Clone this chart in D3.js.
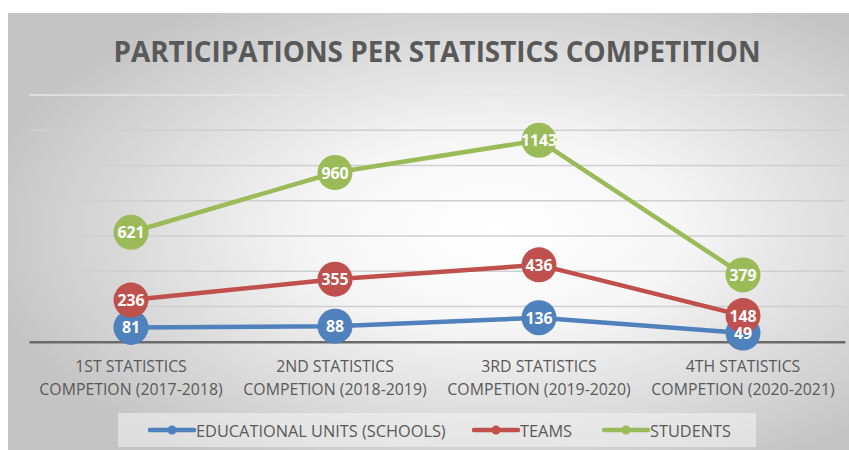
<!DOCTYPE html>
<html lang="en">
<head>
  <meta charset="UTF-8">
  <title>Participations per statistics competition</title>
  <script src="https://cdnjs.cloudflare.com/ajax/libs/d3/7.8.5/d3.min.js"></script>
  <style>
      body { margin: 0; background: #fff; }
      svg { display: block; font-family: "Open Sans", sans-serif; }
  </style>
</head>
<body>
<div id="chart"></div>
<script>
  // Data
  const categories = [
    ["1ST STATISTICS", "COMPETION (2017-2018)"],
    ["2ND STATISTICS", "COMPETION (2018-2019)"],
    ["3RD STATISTICS", "COMPETION (2019-2020)"],
    ["4TH STATISTICS", "COMPETION (2020-2021)"]
  ];
  const seriesNames = ["EDUCATIONAL UNITS (SCHOOLS)", "TEAMS", "STUDENTS"];
  const schools = [81, 88, 136, 49];
  const teams = [236, 355, 436, 148];
  const students = [621, 960, 1143, 379];
  const yTicks = [0, 200, 400, 600, 800, 1000, 1200, 1400];
  const colors = ["#4f81bd", "#c0504d", "#9bbb59"];

  const width = 849, height = 450;
  const squeeze = 0.96; // narrow the font a little, closer to Calibri

  const series = [schools, teams, students].map((values, i) => ({
    name: seriesNames[i], color: colors[i],
    points: values.map((v, j) => ({ cat: j, value: v }))
  }));

  const x = d3.scalePoint().domain(d3.range(categories.length)).range([29, 845]).padding(0.5);
  const y = d3.scaleLinear().domain([0, 1400]).range([341.7, 95]);

  const svg = d3.select("#chart").append("svg")
      .attr("width", width).attr("height", height)
      .attr("viewBox", [0, 0, width, height]);

  const defs = svg.append("defs");
  const grad = defs.append("radialGradient").attr("id", "bg")
      .attr("cx", "58%").attr("cy", "50%").attr("r", "62%");
  grad.append("stop").attr("offset", "0%").attr("stop-color", "#ffffff");
  grad.append("stop").attr("offset", "35%").attr("stop-color", "#f6f6f6");
  grad.append("stop").attr("offset", "100%").attr("stop-color", "#c4c4c4");

  svg.append("rect")
      .attr("x", 8).attr("y", 13).attr("width", width - 8).attr("height", height - 13)
      .attr("fill", "url(#bg)");

  function fit (text) {
    text.each(function () {
      const w = this.getComputedTextLength();
      d3.select(this).attr("textLength", w * squeeze).attr("lengthAdjust", "spacingAndGlyphs");
    });
  }

  // Title
  svg.append("text")
      .attr("x", 437).attr("y", 62)
      .attr("text-anchor", "middle")
      .attr("fill", "#595959")
      .style("font-size", "29px").style("font-weight", "bold")
      .text("PARTICIPATIONS PER STATISTICS COMPETITION")
      .call(fit);

  // Gridlines
  svg.append("g").selectAll("line")
      .data(yTicks.slice(1))
      .join("line")
      .attr("x1", 29).attr("x2", 845)
      .attr("y1", d => y(d)).attr("y2", d => y(d))
      .attr("stroke", d => d === 1400 ? "#e6e6e6" : "#cfcfcf")
      .attr("stroke-width", 1.5);

  // X axis
  const xAxis = svg.append("g")
      .attr("transform", `translate(0,${y(0)})`)
      .call(d3.axisBottom(x).tickSize(0).tickFormat(""));
  xAxis.select(".domain").attr("stroke", "#6b6b6b").attr("stroke-width", 2.5);
  xAxis.selectAll(".tick text").remove();

  const labels = svg.append("g")
      .attr("fill", "#595959")
      .style("font-size", "16.5px")
      .attr("text-anchor", "middle");
  categories.forEach((lines, j) => {
    lines.forEach((line, k) => {
      labels.append("text")
          .attr("x", x(j)).attr("y", 371.5 + k * 23)
          .text(line)
          .call(fit);
    });
  });

  // Lines
  const line = d3.line().x(d => x(d.cat)).y(d => y(d.value));
  svg.append("g").selectAll("path")
      .data(series)
      .join("path")
      .attr("d", d => line(d.points))
      .attr("fill", "none")
      .attr("stroke", d => d.color)
      .attr("stroke-width", 4.5)
      .attr("stroke-linejoin", "round");

  // Data label bubbles
  const bubbles = svg.append("g");
  series.forEach(s => {
    bubbles.selectAll(null)
        .data(s.points)
        .join("circle")
        .attr("cx", d => x(d.cat)).attr("cy", d => y(d.value))
        .attr("r", 17.5)
        .attr("fill", s.color);
  });
  const vals = svg.append("g")
      .attr("fill", "#fff")
      .attr("text-anchor", "middle")
      .style("font-size", "16.5px").style("font-weight", "bold");
  series.forEach(s => {
    vals.selectAll(null)
        .data(s.points)
        .join("text")
        .attr("x", d => x(d.cat)).attr("y", d => y(d.value) + 6)
        .text(d => d.value)
        .call(fit);
  });

  // Legend
  svg.append("rect")
      .attr("x", 118).attr("y", 413).attr("width", 638).attr("height", 34)
      .attr("fill", "#f4f4f4").attr("fill-opacity", 0.55);

  const legendX = [150, 474, 604];
  const legend = svg.append("g").selectAll("g")
      .data(series)
      .join("g")
      .attr("transform", (d, i) => `translate(${legendX[i]},430)`);
  legend.append("line")
      .attr("x1", 0).attr("x2", 44)
      .attr("stroke", d => d.color).attr("stroke-width", 4.5)
      .attr("stroke-linecap", "round");
  legend.append("circle")
      .attr("cx", 22).attr("r", 4.5)
      .attr("fill", d => d.color);
  legend.append("text")
      .attr("x", 46).attr("y", 6.5)
      .attr("fill", "#595959")
      .style("font-size", "17px")
      .text(d => d.name)
      .call(fit);
</script>
</body>
</html>
